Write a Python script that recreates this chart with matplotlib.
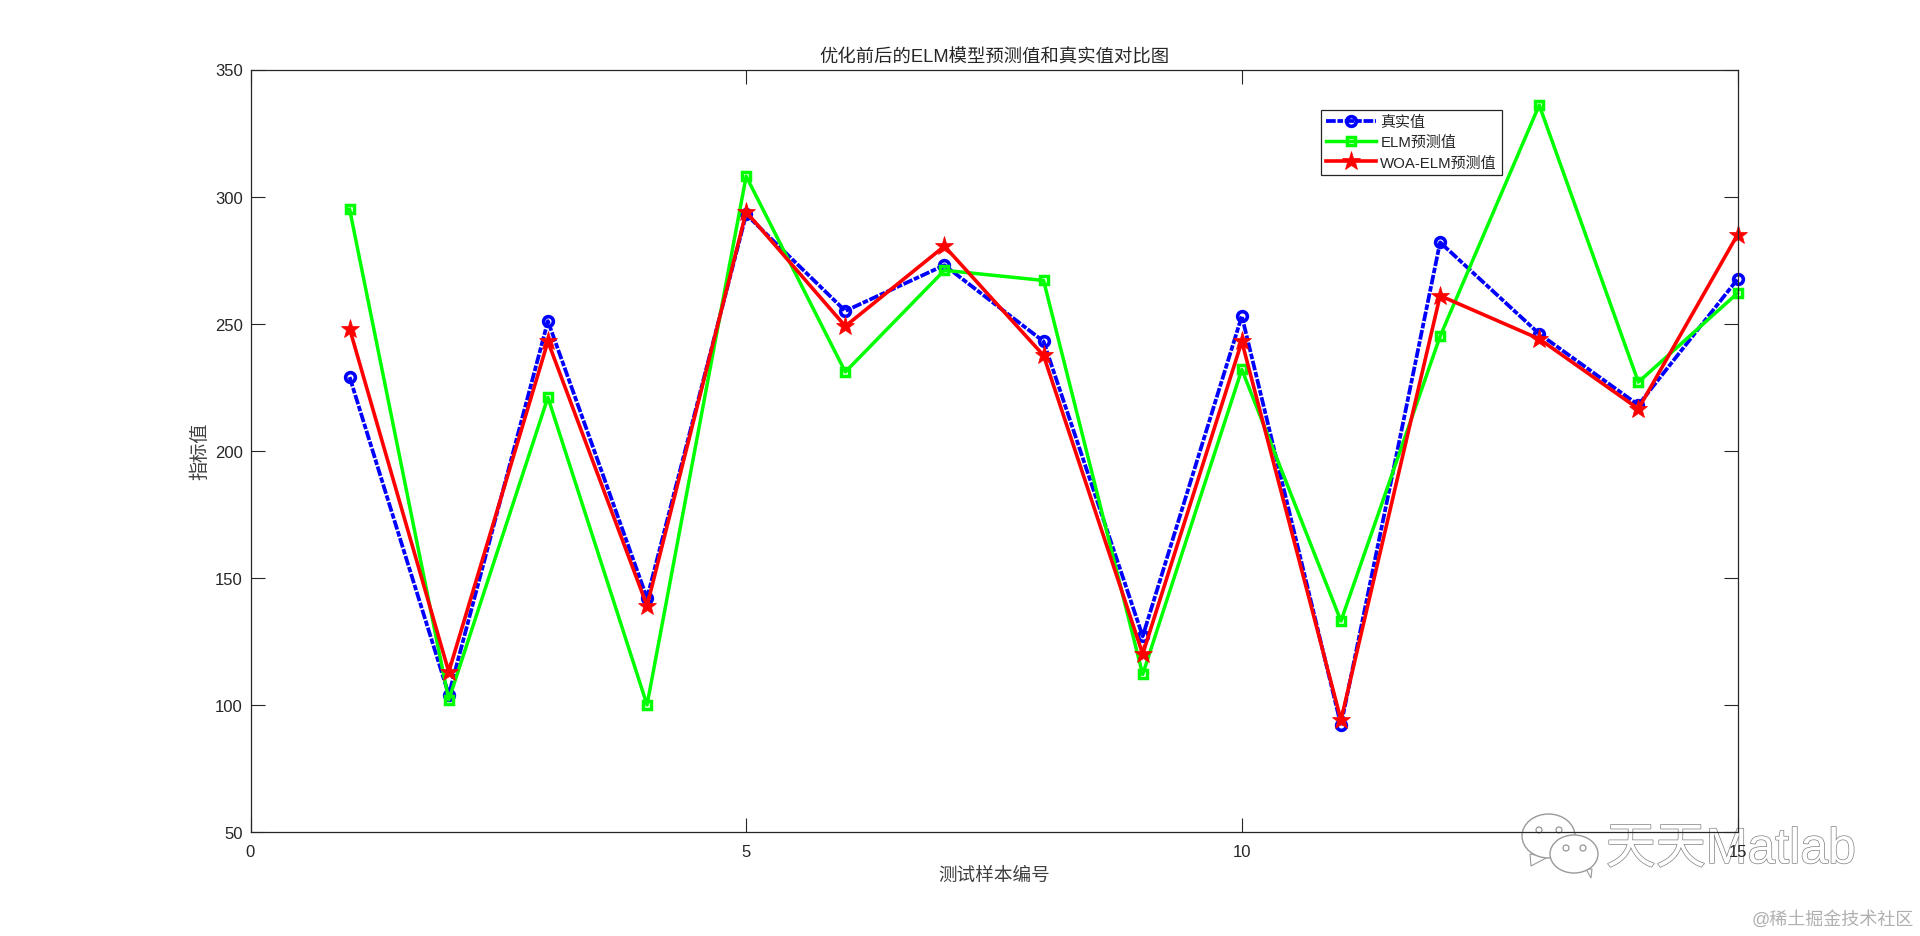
import matplotlib
matplotlib.use("Agg")
import matplotlib.pyplot as plt
import matplotlib.patheffects as pe
from matplotlib.patches import Ellipse, Polygon

plt.rcParams['font.family'] = ['Liberation Sans', 'Noto Sans CJK SC', 'DejaVu Sans']

sample_ids = list(range(1, 16))
true_values = [229, 104, 251, 142, 293, 255, 273, 243, 127, 253, 92, 282, 246, 218, 267.5]
elm_values = [295, 102, 221, 100, 308, 231, 271, 267, 112, 232, 133, 245, 336, 227, 262]
woa_elm_values = [248, 113, 243, 139, 294, 249, 280.5, 237.5, 120, 243, 94, 261, 244, 216.5, 285]
x_ticks = [0, 5, 10, 15]
y_ticks = [50, 100, 150, 200, 250, 300, 350]

W, H = 1920, 937
fig = plt.figure(figsize=(W / 100, H / 100), dpi=100, facecolor='white')
L, R, T, B = 250.5, 1737.5, 70.5, 833
ax = fig.add_axes([L / W, 1 - B / H, (R - L) / W, (B - T) / H])
ax.set_zorder(6)
ax.patch.set_alpha(0)

ax.plot(sample_ids, true_values, color='#0000ff', ls=(0, (2.6, 0.45, 1.5, 0.45)), lw=2.7,
        dash_capstyle='butt', marker='o', ms=7, mfc='none', mew=2.6, label='真实值', clip_on=False)
ax.plot(sample_ids, elm_values, color='#00ff00', ls='-', lw=2.5, marker='s', ms=5.5,
        mfc='none', mew=2.5, label='ELM预测值', clip_on=False)
ax.plot(sample_ids, woa_elm_values, color='#ff0000', ls='-', lw=2.6, marker='*', ms=14,
        mfc='#ff0000', mew=0.5, label='WOA-ELM预测值', clip_on=False)

ax.set_xlim(0, 15)
ax.set_ylim(50, 350)
ax.set_xticks(x_ticks)
ax.set_yticks(y_ticks)
ax.tick_params(direction='in', length=10, width=0.8, labelsize=12, colors='#262626',
               top=True, right=True)
ax.tick_params(axis='x', pad=8.5)
ax.tick_params(axis='y', pad=5.5)
for s in ax.spines.values():
    s.set_linewidth(0.9)
    s.set_color('#262626')

ax.set_title('优化前后的ELM模型预测值和真实值对比图', fontsize=13.2, color='#262626', pad=5.5)
ax.set_xlabel('测试样本编号', fontsize=13.4, color='#404040', labelpad=6)
ax.set_ylabel('指标值', fontsize=13.8, color='#404040', labelpad=4)

leg = ax.legend(loc='upper left', bbox_to_anchor=((1321 - L) / (R - L), 1 - (110.7 - T) / (B - T)),
                borderaxespad=0, fontsize=10.8, frameon=True, fancybox=False, framealpha=1,
                edgecolor='#262626', labelspacing=0.42, handlelength=3.3, handletextpad=0.31,
                borderpad=0.35)
leg.get_frame().set_linewidth(0.9)
for t in leg.get_texts():
    t.set_color('#262626')

# watermark
shadow = [pe.withStroke(linewidth=1.0, foreground='#808080')]
fig.text(1731 / W, 1 - 851 / H, '天天Matlab', fontsize=36, color='white', ha='center', va='center',
         path_effects=shadow, zorder=5)
fig.text(1833 / W, 1 - 920 / H, '@稀土掘金技术社区', fontsize=13, color='#b0b0b0', ha='center',
         va='center', zorder=5)
for cx, cy, w, h, tail, eyes in [
        (1548.5, 837, 53, 44, [(1530, 855), (1531, 867), (1548, 858)], [(1539, 831), (1559, 831)]),
        (1574, 855, 48, 38, [(1586, 870), (1591, 879), (1592, 870)], [(1566, 849), (1583, 849)])]:
    fig.add_artist(Polygon([(x / W, 1 - y / H) for x, y in tail], transform=fig.transFigure,
                           fc='white', ec='#9a9a9a', lw=0.8, zorder=4))
    fig.add_artist(Ellipse((cx / W, 1 - cy / H), w / W, h / H, transform=fig.transFigure,
                           fc='white', ec='#9a9a9a', lw=1, zorder=4))
    for ex, ey in eyes:
        fig.add_artist(Ellipse((ex / W, 1 - ey / H), 6 / W, 6 / H, transform=fig.transFigure,
                               fc='white', ec='#8a8a8a', lw=0.8, zorder=4))

fig.savefig('out.png', dpi=100, facecolor='white')
